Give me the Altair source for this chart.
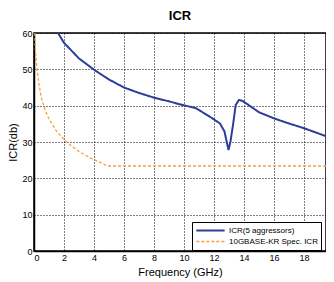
import altair as alt
import pandas as pd

blue_name = "ICR(5 aggressors)"
orange_name = "10GBASE-KR Spec. ICR"

blue_f = [1.6, 2, 3, 4, 5, 6, 7, 8, 9, 9.7, 10.8, 11.9, 12.4, 12.7, 12.97, 13.1, 13.27, 13.45, 13.67, 13.9, 14.3, 15, 16, 17, 18, 19, 20]
blue_v = [60, 57.3, 53, 49.9, 47.2, 45, 43.5, 42.2, 41.2, 40.4, 39.3, 36.5, 35.1, 32.9, 27.8, 30.1, 34.7, 40.2, 41.6, 41.3, 40.2, 38.2, 36.5, 35.1, 33.8, 32.3, 30.8]

orange_f = [0.05, 0.1, 0.2, 0.35, 0.5, 0.75, 1, 1.5, 2, 2.5, 3, 3.5, 4, 4.5, 4.9, 20]
orange_v = [60, 55, 50, 45.5, 42, 38.7, 36.4, 33, 30.7, 28.9, 27.4, 26.2, 25.1, 24.2, 23.4, 23.4]

x_ticks = list(range(0, 21, 2))
y_ticks = list(range(0, 61, 10))

df = pd.concat([
    pd.DataFrame({"f": blue_f, "v": blue_v, "s": blue_name, "o": range(len(blue_f))}),
    pd.DataFrame({"f": orange_f, "v": orange_v, "s": orange_name, "o": range(len(orange_f))}),
])

dom = [blue_name, orange_name]
font = "Liberation Sans"

grid_style = dict(grid=True, gridColor="#000000", gridDash=[1, 2], gridOpacity=1, gridWidth=1)

chart = alt.Chart(df).mark_line(clip=True).encode(
    x=alt.X("f:Q", title="Frequency (GHz)",
            scale=alt.Scale(domain=[0, 19.47], nice=False),
            axis=alt.Axis(values=x_ticks, format="d", labelPadding=2, titlePadding=4, **grid_style)),
    y=alt.Y("v:Q", title="ICR(db)",
            scale=alt.Scale(domain=[0, 60], nice=False),
            axis=alt.Axis(values=y_ticks, labelPadding=2, titlePadding=3, **grid_style)),
    color=alt.Color("s:N", scale=alt.Scale(domain=dom, range=["#2b3f9a", "#f5a040"]),
                    legend=alt.Legend(title=None, orient="none", legendX=158, legendY=189,
                                      strokeColor="black", fillColor="white", padding=3,
                                      labelFontSize=8, labelFont=font, labelColor="black",
                                      symbolType="stroke", symbolSize=800, clipHeight=11,
                                      rowPadding=0, labelOffset=3)),
    strokeDash=alt.StrokeDash("s:N", scale=alt.Scale(domain=dom, range=[[1, 0], [3, 2]]), legend=None),
    strokeWidth=alt.StrokeWidth("s:N", scale=alt.Scale(domain=dom, range=[2, 1.3]), legend=None),
    order="o:Q",
).properties(
    width=292, height=218,
    title=alt.Title("ICR", fontSize=13, font=font, fontWeight="bold", color="black", offset=6),
    autosize=alt.AutoSizeParams(type="none"),
    padding={"left": 26, "top": 25, "right": 0, "bottom": 32},
).configure_view(
    stroke="black", strokeWidth=1.5
).configure_axis(
    domainColor="black", domainWidth=1.5, ticks=False,
    labelFont=font, labelFontSize=9, labelColor="black",
    titleFont=font, titleFontSize=11, titleColor="black", titleFontWeight="normal",
)

chart.save("out.html", embed_options={"renderer": "svg", "actions": False})
